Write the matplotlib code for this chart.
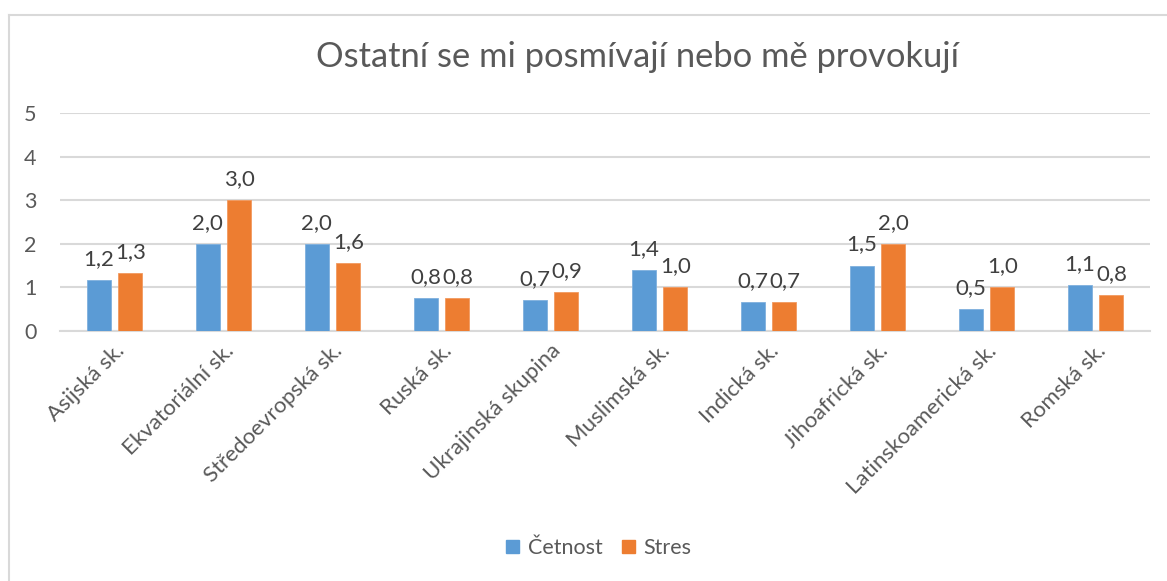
import matplotlib
matplotlib.use("Agg")
import matplotlib.pyplot as plt
import numpy as np
from matplotlib.patches import Patch
from matplotlib.lines import Line2D

categories = ["Asijská sk.", "Ekvatoriální sk.", "Středoevropská sk.", "Ruská sk.",
              "Ukrajinská skupina", "Muslimská sk.", "Indická sk.", "Jihoafrická sk.",
              "Latinskoamerická sk.", "Romská sk."]
cetnost = [1.16, 2.0, 2.0, 0.75, 0.71, 1.4, 0.67, 1.5, 0.5, 1.05]
stres = [1.33, 3.0, 1.56, 0.75, 0.89, 1.0, 0.67, 2.0, 1.0, 0.82]
series_names = ["Četnost", "Stres"]
title = "Ostatní se mi posmívají nebo mě provokují"
yticks = [0, 1, 2, 3, 4, 5]

BLUE = "#5B9BD5"
ORANGE = "#ED7D31"
TXT = "#595959"
GRID = "#D9D9D9"
FONT = ["Lato", "DejaVu Sans"]

plt.rcParams['font.family'] = FONT

W, H = 1167, 581
fig = plt.figure(figsize=(W / 100, H / 100), dpi=100)
fig.patch.set_facecolor("white")

# chart frame (left and top edges visible)
fx0, fy0 = 8.5 / W, 1 - 14.5 / H
fig.add_artist(Line2D([fx0, fx0], [fy0, -0.1], transform=fig.transFigure, color="#D9D9D9", lw=1.5))
fig.add_artist(Line2D([fx0, 1.1], [fy0, fy0], transform=fig.transFigure, color="#D9D9D9", lw=1.5))

ax = fig.add_axes([60 / W, 1 - 331 / H, 1090 / W, 218 / H])
x = np.arange(len(categories))
bw = 0.22
off = 0.146
b1 = ax.bar(x - off, cetnost, bw, color=BLUE, edgecolor="#7FB0DE", linewidth=0.6, zorder=3)
b2 = ax.bar(x + off, stres, bw, color=ORANGE, edgecolor="#F29A60", linewidth=0.6, zorder=3)

for bars, vals in ((b1, cetnost), (b2, stres)):
    for rect, v in zip(bars, vals):
        ax.annotate(f"{v:.1f}".replace(".", ","),
                    (rect.get_x() + rect.get_width() / 2, rect.get_height()),
                    xytext=(0, 8), textcoords="offset points", ha="center", va="bottom",
                    fontsize=16, color="#404040")

ax.set_xlim(-0.5, len(categories) - 0.5)
ax.set_ylim(0, 5)
ax.set_yticks(yticks)
ax.set_yticklabels([str(t) for t in yticks], fontsize=15.5, color=TXT)
ax.yaxis.grid(True, color=GRID, linewidth=1.5, zorder=0)
ax.set_axisbelow(True)
for s in ("top", "right", "left"):
    ax.spines[s].set_visible(False)
ax.spines["bottom"].set_color(GRID)
ax.spines["bottom"].set_linewidth(1.5)
ax.tick_params(axis="y", length=0, pad=17)
ax.tick_params(axis="x", length=0, pad=7)
ax.set_xticks(x)
ax.set_xticklabels(categories, rotation=45, ha="right", rotation_mode="anchor",
                   fontsize=16, color=TXT)

fig.text(638 / W, 1 - 57 / H, title, ha="center", va="center", fontsize=24.8, color=TXT)

handles = [Patch(facecolor=BLUE, edgecolor=BLUE), Patch(facecolor=ORANGE, edgecolor=ORANGE)]
leg = fig.legend(handles, series_names, loc="center", bbox_to_anchor=(599 / W, 1 - 548 / H),
                 ncol=2, frameon=False, fontsize=15.5, handlelength=0.6, handleheight=0.6,
                 handletextpad=0.4, columnspacing=0.9)
for t in leg.get_texts():
    t.set_color(TXT)

fig.savefig("out.png", dpi=100, facecolor="white")
